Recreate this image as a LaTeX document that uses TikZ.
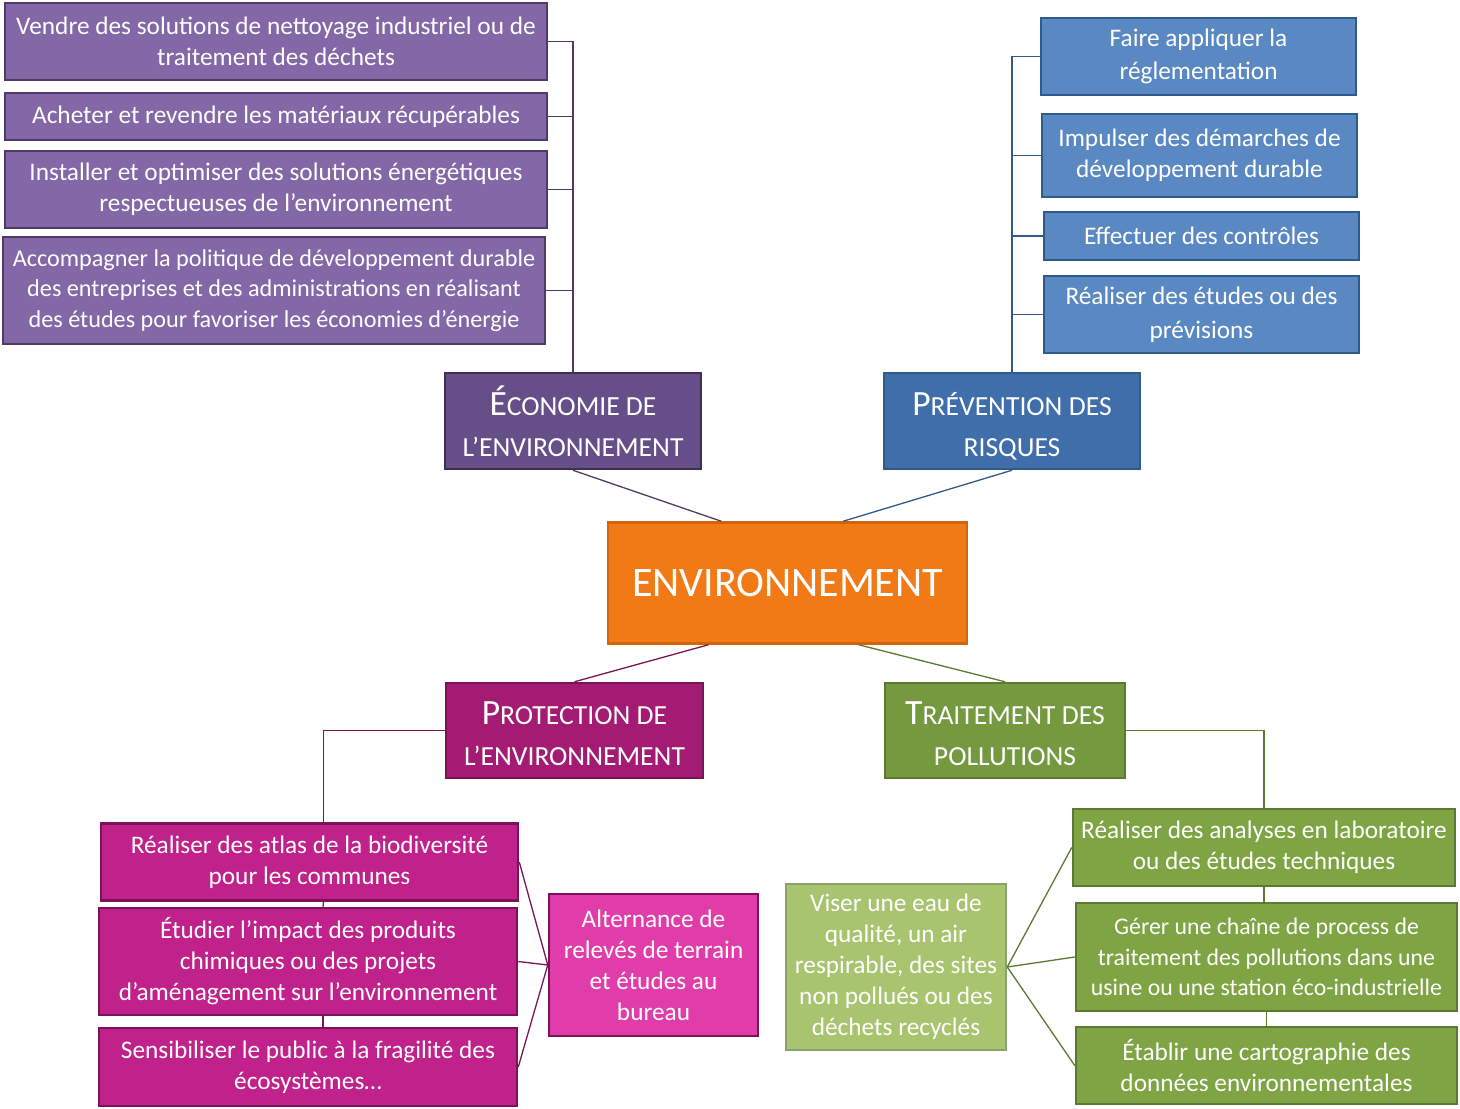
\documentclass[tikz,border=0pt]{standalone}
\usepackage{fontspec}
\setmainfont{Carlito}
\usetikzlibrary{positioning}

\definecolor{ecoMain}{HTML}{664E88}
\definecolor{ecoItem}{HTML}{8467A6}
\definecolor{ecoLine}{HTML}{4E3B68}
\definecolor{prevMain}{HTML}{3F6EAA}
\definecolor{prevItem}{HTML}{5A88C3}
\definecolor{prevLine}{HTML}{315A8C}
\definecolor{envMain}{HTML}{F27A16}
\definecolor{envLine}{HTML}{D2650C}
\definecolor{protMain}{HTML}{A41B74}
\definecolor{protItem}{HTML}{C0218A}
\definecolor{protAlt}{HTML}{E03DAA}
\definecolor{protLine}{HTML}{7A1457}
\definecolor{traitMain}{HTML}{74993E}
\definecolor{traitItem}{HTML}{7FA443}
\definecolor{traitAlt}{HTML}{A8C46E}
\definecolor{traitLine}{HTML}{5B7A2F}

% petites capitales imitees, hauteur et profondeur fixes
\newcommand{\fsc}[2]{\raisebox{0pt}[\height][0pt]{{\fontsize{35.5}{41}\selectfont #1}{\fontsize{27.6}{41}\selectfont #2}}\vphantom{\fontsize{35.5}{41}\selectfont É}}

\tikzset{
  box/.style={draw, line width=2.5pt, text=white, align=center, inner sep=0pt,
    font=\fontsize{25.3}{31}\selectfont},
  item/.style={box, execute at begin node={\rule{0pt}{26pt}}},
  smallitem/.style={item, font=\fontsize{24.2}{30.5}\selectfont},
  head/.style={box, font=\fontsize{27.6}{41}\selectfont},
  link/.style={line width=1.3pt},
}

\begin{document}
\begin{tikzpicture}[x=1pt, y=-1pt]
  \useasboundingbox (0,0) rectangle (1460,1109);

  % centre
  \node[box, fill=envMain, draw=envLine, minimum width=359pt, minimum height=121pt,
    font=\fontsize{42}{45}\selectfont] (env) at (787.5,583) {ENVIRONNEMENT};

  % economie de l'environnement
  \node[head, fill=ecoMain, draw=ecoLine!80!black, minimum width=256pt, minimum height=96pt]
    (eco) at (573,421) {\fsc{É}{CONOMIE DE}\\\fsc{}{L’ENVIRONNEMENT}};
  \node[item, fill=ecoItem, draw=ecoLine, minimum width=542pt, minimum height=77pt]
    (e1) at (276,41.5) {Vendre des solutions de nettoyage industriel ou de\\traitement des déchets};
  \node[box, fill=ecoItem, draw=ecoLine, minimum width=542pt, minimum height=47pt]
    (e2) at (276,116.5) {Acheter et revendre les matériaux récupérables};
  \node[item, fill=ecoItem, draw=ecoLine, minimum width=542pt, minimum height=77pt]
    (e3) at (276,189.5) {Installer et optimiser des solutions énergétiques\\respectueuses de l’environnement};
  \node[smallitem, fill=ecoItem, draw=ecoLine, minimum width=542pt, minimum height=107pt]
    (e4) at (274,290.5) {Accompagner la politique de développement durable\\des entreprises et des administrations en réalisant\\des études pour favoriser les économies d’énergie};

  % prevention des risques
  \node[head, fill=prevMain, draw=prevLine, minimum width=256pt, minimum height=96pt]
    (prev) at (1012,421) {\fsc{P}{RÉVENTION DES}\\\fsc{}{RISQUES}};
  \node[item, fill=prevItem, draw=prevLine, minimum width=315pt, minimum height=77pt,
    font=\fontsize{25.3}{33}\selectfont]
    (p1) at (1198.5,56.5) {Faire appliquer la\\réglementation};
  \node[item, fill=prevItem, draw=prevLine, minimum width=315pt, minimum height=83pt]
    (p2) at (1199.5,155.5) {Impulser des démarches de\\développement durable};
  \node[box, fill=prevItem, draw=prevLine, minimum width=315pt, minimum height=48pt]
    (p3) at (1201.5,236) {Effectuer des contrôles};
  \node[item, fill=prevItem, draw=prevLine, minimum width=315pt, minimum height=77pt,
    font=\fontsize{25.3}{34}\selectfont]
    (p4) at (1201.5,314.5) {Réaliser des études ou des\\prévisions};

  % protection de l'environnement
  \node[head, fill=protMain, draw=protLine, minimum width=257pt, minimum height=95pt]
    (prot) at (574.5,730.5) {\fsc{P}{ROTECTION DE}\\\fsc{}{L’ENVIRONNEMENT}};
  \node[item, fill=protItem, draw=protLine, minimum width=417pt, minimum height=77pt]
    (pr1) at (309.5,862) {Réaliser des atlas de la biodiversité\\pour les communes};
  \node[item, fill=protItem, draw=protLine, minimum width=418pt, minimum height=107pt]
    (pr2) at (308,961.5) {Étudier l’impact des produits\\chimiques ou des projets\\d’aménagement sur l’environnement};
  \node[item, fill=protItem, draw=protLine, minimum width=418pt, minimum height=78pt]
    (pr3) at (308,1067) {Sensibiliser le public à la fragilité des\\écosystèmes…};
  \node[item, fill=protAlt, draw=protLine, minimum width=209pt, minimum height=142pt]
    (alt) at (653.5,965) {Alternance de\\relevés de terrain\\et études au\\bureau};

  % traitement des pollutions
  \node[head, fill=traitMain, draw=traitLine, minimum width=240pt, minimum height=95pt]
    (trait) at (1005,730.5) {\fsc{T}{RAITEMENT DES}\\\fsc{}{POLLUTIONS}};
  \node[item, fill=traitItem, draw=traitLine, minimum width=382pt, minimum height=77pt]
    (t1) at (1264,847.5) {Réaliser des analyses en laboratoire\\ou des études techniques};
  \node[smallitem, fill=traitItem, draw=traitLine, minimum width=381pt, minimum height=108pt,
    font=\fontsize{23.8}{30.5}\selectfont]
    (t2) at (1266.5,957) {Gérer une chaîne de process de\\traitement des pollutions dans une\\usine ou une station éco-industrielle};
  \node[item, fill=traitItem, draw=traitLine, minimum width=381pt, minimum height=77pt]
    (t3) at (1266.5,1065.5) {Établir une cartographie des\\données environnementales};
  \node[item, fill=traitAlt, draw=traitLine!70, minimum width=220pt, minimum height=166pt]
    (viser) at (896,967) {Viser une eau de\\qualité, un air\\respirable, des sites\\non pollués ou des\\déchets recyclés};

  % liens vers le centre
  \draw[link, ecoLine] (eco.south) -- (env.137);
  \draw[link, prevLine] (prev.south) -- (env.48);
  \draw[link, protLine] (env.-142) -- (prot.north);
  \draw[link, traitLine] (env.-41) -- (trait.north);

  % accolades
  \foreach \n in {e1,e2,e3,e4}
    \draw[link, ecoLine] (eco.north) |- (\n.east);
  \foreach \n in {p1,p2,p3,p4}
    \draw[link, prevLine] (prev.north) |- (\n.west);

  \draw[link, protLine] (prot.west) -| ([xshift=14pt]pr1.north);
  \draw[link, protLine] ([xshift=14pt]pr1.south) -- ([xshift=15pt]pr2.north);
  \draw[link, protLine] ([xshift=15pt]pr2.south) -- ([xshift=15pt]pr3.north);
  \foreach \n in {pr1,pr2,pr3}
    \draw[link, protLine] (alt.west) -- (\n.east);

  \draw[link, traitLine] (trait.east) -| (t1.north);
  \draw[link, traitLine] (t1.south) -- (t1.south |- t2.north);
  \draw[link, traitLine] (t2.south) -- (t3.north);
  \foreach \n in {t1,t2,t3}
    \draw[link, traitLine] (viser.east) -- (\n.west);
\end{tikzpicture}
\end{document}
